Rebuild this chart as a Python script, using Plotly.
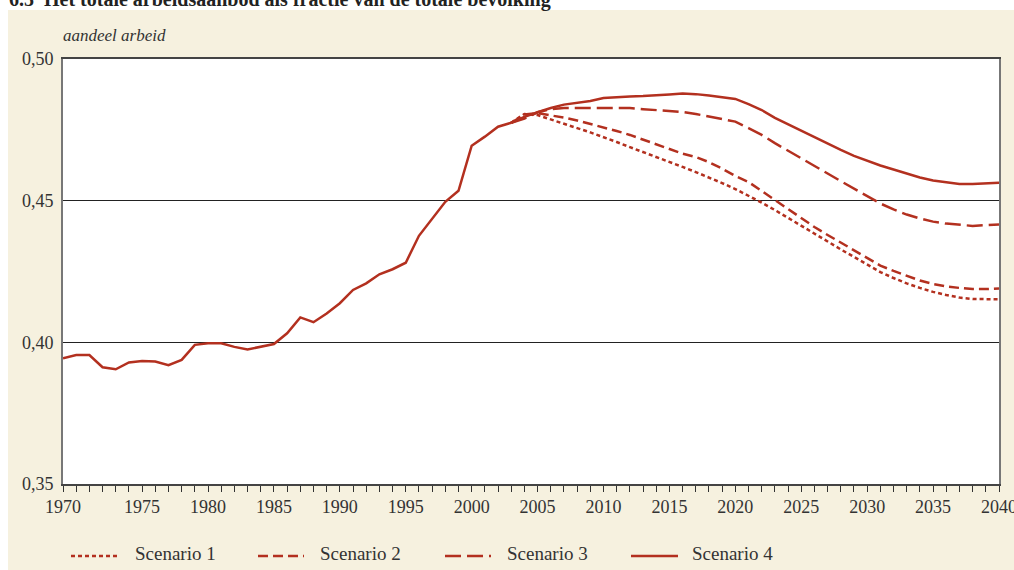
import plotly.graph_objects as go

# ---------------- data ----------------
hist_years = list(range(1969, 2004))
hist_values = [0.3944, 0.3955, 0.3955, 0.3912, 0.3905, 0.3929, 0.3934, 0.3932, 0.3919, 0.3938,
               0.3991, 0.3997, 0.3997, 0.3984, 0.3975, 0.3984, 0.3994, 0.4032, 0.4088, 0.4071,
               0.4102, 0.4138, 0.4185, 0.4208, 0.4240, 0.4258, 0.4281, 0.4376, 0.4435, 0.4496,
               0.4535, 0.4694, 0.4726, 0.4761, 0.4775]

proj_years = list(range(2003, 2041))
scenario1 = [0.4775, 0.4806, 0.4802, 0.4786, 0.4772, 0.4756, 0.4741, 0.4725, 0.4707, 0.4689,
             0.4672, 0.4654, 0.4636, 0.4619, 0.4601, 0.4582, 0.4562, 0.4541, 0.4518, 0.4493,
             0.4467, 0.4440, 0.4412, 0.4384, 0.4356, 0.4328, 0.4301, 0.4273, 0.4248, 0.4227,
             0.4208, 0.4192, 0.4178, 0.4167, 0.4158, 0.4153, 0.4152, 0.4152]
scenario2 = [0.4775, 0.4804, 0.4809, 0.4802, 0.4793, 0.4783, 0.4771, 0.4758, 0.4746, 0.4732,
             0.4716, 0.4700, 0.4682, 0.4666, 0.4654, 0.4636, 0.4613, 0.4587, 0.4566, 0.4534,
             0.4502, 0.4472, 0.4440, 0.4407, 0.4379, 0.4352, 0.4322, 0.4296, 0.4271, 0.4252,
             0.4234, 0.4218, 0.4206, 0.4197, 0.4192, 0.4188, 0.4188, 0.4190]
scenario3 = [0.4775, 0.4790, 0.4812, 0.4823, 0.4827, 0.4827, 0.4827, 0.4829, 0.4829, 0.4827,
             0.4823, 0.4820, 0.4816, 0.4813, 0.4806, 0.4797, 0.4788, 0.4779, 0.4756, 0.4732,
             0.4703, 0.4677, 0.4649, 0.4622, 0.4596, 0.4569, 0.4543, 0.4516, 0.4490, 0.4469,
             0.4451, 0.4437, 0.4426, 0.4419, 0.4414, 0.4411, 0.4414, 0.4416]
scenario4 = [0.4775, 0.4796, 0.4812, 0.4827, 0.4839, 0.4845, 0.4852, 0.4862, 0.4866, 0.4868,
             0.4869, 0.4871, 0.4875, 0.4878, 0.4876, 0.4871, 0.4866, 0.4859, 0.4841, 0.4820,
             0.4792, 0.4769, 0.4746, 0.4725, 0.4702, 0.4679, 0.4658, 0.4640, 0.4624, 0.4610,
             0.4596, 0.4582, 0.4571, 0.4564, 0.4559, 0.4559, 0.4561, 0.4563]

scenario_names = ["Scenario 1", "Scenario 2", "Scenario 3", "Scenario 4"]
scenario_dashes = ["4px,3px", "10px,5px", "16px,6px", "solid"]

x_tick_text = ["1970", "1975", "1980", "1985", "1990", "1995", "2000", "2005", "2010",
               "2015", "2020", "2025", "2030", "2035", "2040"]
x_tick_vals = [1969] + list(range(1975, 2041, 5))
y_tick_vals = [0.35, 0.40, 0.45, 0.50]
y_tick_text = ["0,35", "0,40", "0,45", "0,50"]

title_text = "6.5  Het totale arbeidsaanbod als fractie van de totale bevolking"
y_title = "aandeel arbeid"

# ---------------- style ----------------
RED = "#B3301F"
BEIGE = "#F6F1DF"
FONT = "Liberation Serif"
W, H = 1014, 570
L, R, T, B = 63, 15, 59, 86
PW, PH = W - L - R, H - T - B


def px_x(p):
    return (p - L) / PW


def px_y(p):
    return (H - B - p) / PH


fig = go.Figure()
fig.add_trace(go.Scatter(x=hist_years, y=hist_values, mode="lines",
                         line=dict(color=RED, width=2.5), showlegend=False, hoverinfo="skip"))
for name, vals, dash in zip(scenario_names, [scenario1, scenario2, scenario3, scenario4], scenario_dashes):
    fig.add_trace(go.Scatter(x=proj_years, y=vals, mode="lines", name=name,
                             line=dict(color=RED, width=2.5, dash=dash), showlegend=False))

shapes = [
    # white strips outside the beige panel
    dict(type="rect", xref="paper", yref="paper", x0=px_x(0), x1=px_x(8), y0=px_y(H), y1=px_y(0),
         fillcolor="white", line=dict(width=0), layer="above"),
    dict(type="rect", xref="paper", yref="paper", x0=px_x(0), x1=px_x(W), y0=px_y(10), y1=px_y(0),
         fillcolor="white", line=dict(width=0), layer="above"),
]
annotations = [
    dict(text="<b>" + title_text + "</b>", xref="paper", yref="paper", x=px_x(7), y=px_y(0),
         xanchor="left", yanchor="middle", showarrow=False,
         font=dict(family=FONT, size=20, color="#222")),
    dict(text="<i>" + y_title + "</i>", xref="paper", yref="paper", x=px_x(61), y=px_y(35),
         xanchor="left", yanchor="middle", showarrow=False,
         font=dict(family=FONT, size=17, color="#333")),
]

legend_x = [(71, 120, 133), (258, 304, 318), (445, 491, 505), (631, 678, 690)]
for (x0, x1, xt), name, dash in zip(legend_x, scenario_names, scenario_dashes):
    shapes.append(dict(type="line", xref="paper", yref="paper", x0=px_x(x0), x1=px_x(x1),
                       y0=px_y(556), y1=px_y(556), line=dict(color=RED, width=2.5, dash=dash)))
    annotations.append(dict(text=name, xref="paper", yref="paper", x=px_x(xt), y=px_y(553),
                            xanchor="left", yanchor="middle", showarrow=False,
                            font=dict(family=FONT, size=19, color="#333")))

fig.update_layout(
    width=W, height=H,
    margin=dict(l=L, r=R, t=T, b=B, autoexpand=False),
    paper_bgcolor=BEIGE, plot_bgcolor="white",
    font=dict(family=FONT, color="#333"),
    shapes=shapes, annotations=annotations,
    xaxis=dict(range=[1969, 2040], tickvals=x_tick_vals, ticktext=x_tick_text,
               ticks="outside", ticklen=6, tickcolor="#333", tickwidth=1,
               minor=dict(tickvals=list(range(1969, 2041)), ticks="outside", ticklen=6,
                          tickcolor="#333", tickwidth=1),
               ticklabeloverflow="allow", automargin=False,
               showline=True, linecolor="#444", linewidth=1.5, mirror=True,
               showgrid=False, zeroline=False, tickfont=dict(family=FONT, size=18, color="#333")),
    yaxis=dict(range=[0.35, 0.50], tickvals=y_tick_vals, ticktext=y_tick_text,
               ticks="", showline=True, linecolor="#777", linewidth=2, mirror=True,
               showgrid=True, gridcolor="#222", gridwidth=1, zeroline=False, automargin=False,
               ticklabelstandoff=4, tickfont=dict(family=FONT, size=18, color="#333")),
)

fig.write_html("out.html", config={"displayModeBar": False},
               post_script="document.body.style.margin='0';")
